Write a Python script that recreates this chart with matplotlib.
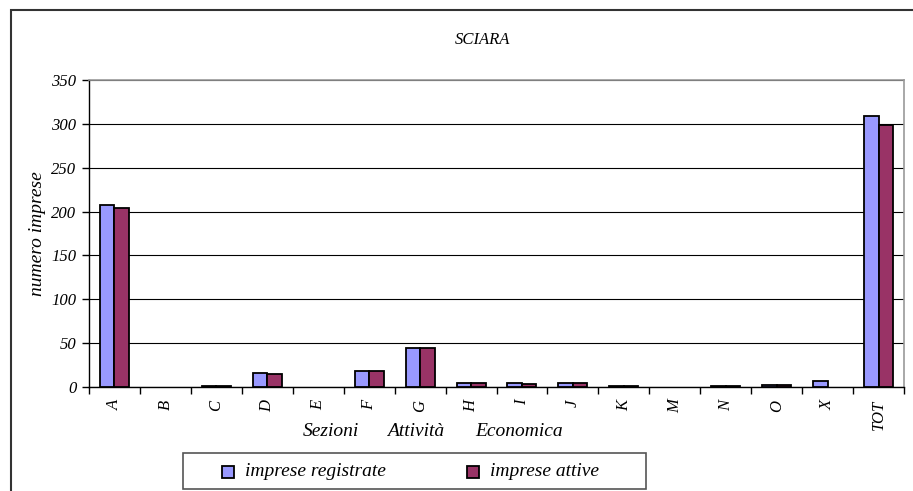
import matplotlib
matplotlib.use("Agg")
import matplotlib.pyplot as plt
import numpy as np
from matplotlib.patches import Rectangle

categories = ["A", "B", "C", "D", "E", "F", "G", "H", "I", "J", "K", "M", "N", "O", "X", "TOT"]
registrate = [207, 0, 1, 16, 0, 18, 44, 5, 4, 4, 1, 0, 1, 2, 7, 309]
attive = [204, 0, 1, 15, 0, 18, 44, 5, 3, 4, 1, 0, 1, 2, 0, 299]
yticks = [0, 50, 100, 150, 200, 250, 300, 350]
series_names = ['imprese registrate', 'imprese attive']
series_colors = ['#9999FF', '#993366']
xlabel_words = ['Sezioni', 'Attività', 'Economica']

plt.rcParams['font.family'] = ['Liberation Serif', 'DejaVu Serif']
plt.rcParams['font.style'] = 'italic'

W, H = 913, 491
fig = plt.figure(figsize=(W / 100, H / 100), dpi=100)

def fx(px):
    return px / W

def fy(py):
    return 1 - py / H

# outer frame (cut at right and bottom)
fig.patches.append(Rectangle((fx(11), -0.1), 1.2, fy(10) + 0.1, transform=fig.transFigure,
                             fill=False, edgecolor='#333333', linewidth=1.5))

ax = fig.add_axes([fx(89), fy(387), 815 / W, 307 / H])
x = np.arange(len(categories))
bw = 0.285
reg = np.array(registrate, dtype=float)
att = np.array(attive, dtype=float)
# zero-valued bars are not drawn in the reference
reg_draw = np.where(reg == 0, np.nan, reg)
att_draw = np.where(att == 0, np.nan, att)
ax.bar(x - bw / 2, reg_draw, bw, color=series_colors[0], edgecolor='black', linewidth=1.3,
       label=series_names[0], zorder=3)
ax.bar(x + bw / 2, att_draw, bw, color=series_colors[1], edgecolor='black', linewidth=1.3,
       label=series_names[1], zorder=3)

ax.set_xlim(-0.5, len(categories) - 0.5)
ax.set_ylim(0, 350)
ax.set_yticks(yticks)
ax.set_yticklabels([str(v) for v in yticks], fontsize=12, style='italic')
ax.yaxis.grid(True, color='black', linewidth=0.8, zorder=0)
ax.set_axisbelow(True)

ax.set_xticks(x)
ax.set_xticklabels(categories, rotation=90, fontsize=12, style='italic')
ax.set_xticks(np.arange(len(categories) + 1) - 0.5, minor=True)
ax.tick_params(axis='x', which='major', length=0, pad=9)
ax.tick_params(axis='x', which='minor', length=5, direction='out', width=1)
ax.tick_params(axis='y', length=5, direction='out', width=1, pad=4)

for s in ['top', 'right']:
    ax.spines[s].set_color('#999999')
    ax.spines[s].set_linewidth(1.2)
for s in ['left', 'bottom']:
    ax.spines[s].set_color('black')
    ax.spines[s].set_linewidth(1)

fig.text(fx(482), fy(40), 'SCIARA', ha='center', va='center', fontsize=12, style='italic')
fig.text(fx(37), fy(234), 'numero imprese', ha='center', va='center', rotation=90,
         fontsize=14, style='italic')
for word, px in zip(xlabel_words, [303, 387, 475]):
    fig.text(fx(px), fy(431), word, ha='left', va='center', fontsize=14, style='italic')

# legend box
fig.patches.append(Rectangle((fx(183), fy(489)), (646 - 183) / W, (489 - 453) / H,
                             transform=fig.transFigure, fill=True, facecolor='white',
                             edgecolor='#555555', linewidth=1.2))
for name, col, sx, tx in zip(series_names, series_colors, [222, 467], [245, 490]):
    fig.patches.append(Rectangle((fx(sx), fy(478)), 12 / W, 12 / H, transform=fig.transFigure,
                                 facecolor=col, edgecolor='black', linewidth=1.3))
    fig.text(fx(tx), fy(472), name, ha='left', va='center', fontsize=14, style='italic')

fig.savefig('out.png', dpi=100)
